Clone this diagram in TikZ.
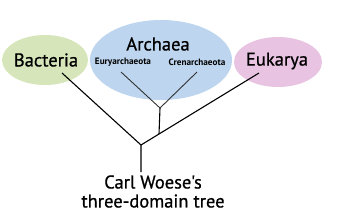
\documentclass[tikz,border=0pt]{standalone}
\usepackage{fontspec}
\setmainfont{PT Sans}
\newfontfamily\medfont{PT Sans}[FakeBold=0.8]
\usepackage{tikz}
\usetikzlibrary{positioning}

\definecolor{bactgreen}{HTML}{D6E6BA}
\definecolor{archblue}{HTML}{BDD5EE}
\definecolor{eukpink}{HTML}{E8C4E2}

\begin{document}
\begin{tikzpicture}[x=1pt,y=-1pt,
  branch/.style={draw,line width=1.1pt},
  subbranch/.style={draw,black!80,line width=0.9pt},
  lab/.style={font=\medfont\fontsize{18.5}{19}\selectfont,inner sep=0pt},
  sublab/.style={font=\bfseries\fontsize{9.2}{10}\selectfont,inner sep=0pt}]
\useasboundingbox (0,0) rectangle (347,212);
% domains
\fill[bactgreen] (45,60) ellipse (43 and 25);
\fill[archblue] (161,60) ellipse (71 and 40);
\fill[eukpink] (278,62) ellipse (44 and 25);
\node[lab] (bact) at (46,60) {Bacteria};
\node[lab] (arch) at (158,44) {Archaea};
\node[lab] (euk) at (277,61) {Eukarya};
\node[sublab] (eury) at (123,62) {Euryarchaeota};
\node[sublab] (cren) at (197,62) {Crenarchaeota};
% branch points
\coordinate (root) at (141,145);
\coordinate (stem) at (141,172);
\coordinate (ae) at (159,134);
\coordinate (a) at (160,108);
\coordinate (bleaf) at (62,73);
\coordinate (eleaf) at (259,73);
\coordinate (euleaf) at (121,72);
\coordinate (crleaf) at (197,72);
\draw[branch] (stem) -- (root) -- (bleaf);
\draw[branch] (root) -- (ae) -- (eleaf);
\draw[branch] (ae) -- (a);
\draw[subbranch] (euleaf) -- (a) -- (crleaf);
% caption
\node[lab,align=center] (cap) at (153,191.5) {Carl Woese's\\three-domain tree};
\end{tikzpicture}
\end{document}
